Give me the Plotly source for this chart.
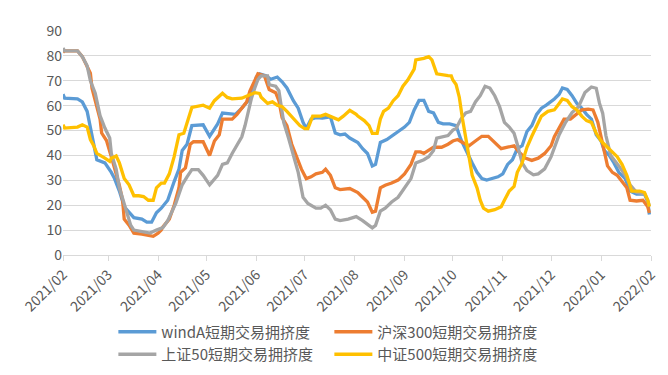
import plotly.graph_objects as go

blue_dates = ["2021-02-01","2021-02-02","2021-02-10","2021-02-13","2021-02-16","2021-02-18","2021-02-20","2021-02-22","2021-02-27","2021-03-02","2021-03-03","2021-03-05","2021-03-08","2021-03-11","2021-03-14","2021-03-17","2021-03-22","2021-03-25","2021-03-28","2021-03-31","2021-04-03","2021-04-07","2021-04-11","2021-04-14","2021-04-16","2021-04-19","2021-04-22","2021-04-29","2021-05-03","2021-05-08","2021-05-11","2021-05-16","2021-05-19","2021-05-23","2021-05-27","2021-05-30","2021-06-01","2021-06-03","2021-06-07","2021-06-10","2021-06-14","2021-06-17","2021-06-20","2021-06-24","2021-06-27","2021-06-30","2021-07-02","2021-07-05","2021-07-08","2021-07-12","2021-07-17","2021-07-20","2021-07-23","2021-07-26","2021-07-29","2021-08-03","2021-08-06","2021-08-09","2021-08-12","2021-08-14","2021-08-17","2021-08-21","2021-08-25","2021-08-28","2021-09-01","2021-09-04","2021-09-07","2021-09-10","2021-09-13","2021-09-16","2021-09-19","2021-09-22","2021-09-25","2021-09-29","2021-10-03","2021-10-06","2021-10-10","2021-10-13","2021-10-16","2021-10-19","2021-10-22","2021-10-25","2021-10-29","2021-11-01","2021-11-04","2021-11-07","2021-11-10","2021-11-13","2021-11-16","2021-11-19","2021-11-22","2021-11-25","2021-11-28","2021-12-03","2021-12-06","2021-12-08","2021-12-11","2021-12-14","2021-12-17","2021-12-20","2021-12-23","2021-12-26","2021-12-29","2022-01-01","2022-01-03","2022-01-06","2022-01-09","2022-01-12","2022-01-16","2022-01-19","2022-01-23","2022-01-28","2022-01-30","2022-01-31"]
blue_vals = [64.6,63,62.7,61.5,57.7,51.4,44.5,38.3,37,34.5,33.2,30.7,25.7,19.4,17,15,14.4,13.2,13.2,17,18.8,22,29.5,34.5,42,44.5,52,52.3,47.7,52.7,57,56.7,56.5,59,62,66.5,71.5,72.8,72,70.6,71.5,69.6,67.1,62,59,53.3,50.8,54.6,55.2,55,55.5,49,48.3,48.6,47,45.2,42.7,40.8,35.8,36.4,45.2,46.4,48.3,49.6,51.4,53.3,58.3,62.1,62.1,57.7,57.1,53.3,52.7,52.7,52,46.4,40.8,37,33.2,30.7,30.1,30.7,31.4,32.6,36.4,38.3,42.7,43.9,49.6,52,56.5,59,60.2,62.7,64.6,67.1,66.5,64,60.9,59,56.5,54.6,48.3,45.8,42,40.1,37,33.2,30.7,25.7,24.5,24.5,21.3,16.3]

orange_dates = ["2021-02-01","2021-02-02","2021-02-10","2021-02-13","2021-02-18","2021-02-19","2021-02-21","2021-02-24","2021-02-25","2021-02-28","2021-03-03","2021-03-06","2021-03-08","2021-03-10","2021-03-11","2021-03-14","2021-03-17","2021-03-22","2021-03-25","2021-03-29","2021-04-01","2021-04-03","2021-04-04","2021-04-08","2021-04-11","2021-04-14","2021-04-15","2021-04-18","2021-04-21","2021-04-23","2021-04-29","2021-05-03","2021-05-06","2021-05-09","2021-05-11","2021-05-17","2021-05-20","2021-05-23","2021-05-26","2021-05-28","2021-05-31","2021-06-02","2021-06-06","2021-06-09","2021-06-13","2021-06-15","2021-06-17","2021-06-20","2021-06-23","2021-06-26","2021-06-29","2021-07-02","2021-07-05","2021-07-08","2021-07-12","2021-07-14","2021-07-17","2021-07-20","2021-07-23","2021-07-29","2021-08-03","2021-08-06","2021-08-09","2021-08-12","2021-08-14","2021-08-17","2021-08-20","2021-08-24","2021-08-28","2021-09-01","2021-09-05","2021-09-08","2021-09-11","2021-09-13","2021-09-16","2021-09-19","2021-09-24","2021-09-28","2021-10-01","2021-10-04","2021-10-07","2021-10-11","2021-10-15","2021-10-19","2021-10-23","2021-10-27","2021-10-31","2021-11-04","2021-11-08","2021-11-11","2021-11-15","2021-11-19","2021-11-23","2021-11-27","2021-12-01","2021-12-03","2021-12-06","2021-12-09","2021-12-13","2021-12-17","2021-12-20","2021-12-24","2021-12-27","2021-12-30","2022-01-02","2022-01-05","2022-01-08","2022-01-11","2022-01-14","2022-01-17","2022-01-19","2022-01-23","2022-01-27","2022-01-30","2022-01-31"]
orange_vals = [81.5,82,82,79.7,73,67,62,54.6,49,46,39.5,33,28,22,14.4,12,8.8,8.4,7.9,7.5,8.8,10,11.3,14.4,20,27,33.2,35,44.5,45.5,45.5,40,45.8,48.3,54.6,54.6,56.5,59,61.5,65.9,70.3,72.8,72,66.5,65.2,62,55.2,52,44.5,39.5,34.5,30.7,31.4,32.6,33.2,34.5,32,27,26.3,26.7,25.1,23.2,21.3,17.2,17.6,27,28,28.9,30.1,32.6,36.4,41.4,41.4,40.8,42,43.3,43.3,44.5,45.8,46.4,45.2,43.9,45.8,47.7,47.7,45.2,42.7,43.3,43.9,41.4,38.9,38,38.9,40.8,43.9,47.5,51.4,54.6,54.6,56.5,58.3,58.6,58.3,53.3,44.5,35.8,33.2,32,29.5,27,22,21.7,22,19.4,16.9]

gray_dates = ["2021-02-01","2021-02-02","2021-02-10","2021-02-13","2021-02-16","2021-02-18","2021-02-21","2021-02-24","2021-02-27","2021-03-02","2021-03-03","2021-03-06","2021-03-08","2021-03-11","2021-03-13","2021-03-15","2021-03-17","2021-03-23","2021-03-27","2021-03-31","2021-04-03","2021-04-04","2021-04-07","2021-04-10","2021-04-12","2021-04-14","2021-04-16","2021-04-19","2021-04-22","2021-04-26","2021-04-29","2021-05-03","2021-05-08","2021-05-11","2021-05-14","2021-05-17","2021-05-20","2021-05-23","2021-05-25","2021-05-27","2021-05-29","2021-05-31","2021-06-02","2021-06-04","2021-06-08","2021-06-09","2021-06-13","2021-06-15","2021-06-16","2021-06-18","2021-06-21","2021-06-24","2021-06-27","2021-06-30","2021-07-03","2021-07-08","2021-07-11","2021-07-14","2021-07-17","2021-07-20","2021-07-23","2021-07-28","2021-08-02","2021-08-06","2021-08-09","2021-08-12","2021-08-14","2021-08-17","2021-08-20","2021-08-24","2021-08-28","2021-09-01","2021-09-05","2021-09-08","2021-09-13","2021-09-16","2021-09-19","2021-09-21","2021-09-25","2021-09-28","2021-10-01","2021-10-03","2021-10-06","2021-10-09","2021-10-12","2021-10-15","2021-10-18","2021-10-21","2021-10-24","2021-10-27","2021-10-30","2021-11-02","2021-11-05","2021-11-08","2021-11-10","2021-11-13","2021-11-16","2021-11-20","2021-11-23","2021-11-27","2021-12-01","2021-12-06","2021-12-10","2021-12-14","2021-12-18","2021-12-22","2021-12-26","2021-12-29","2021-12-31","2022-01-02","2022-01-04","2022-01-07","2022-01-12","2022-01-16","2022-01-19","2022-01-23","2022-01-28","2022-01-30","2022-01-31"]
gray_vals = [83.2,82,82,79.7,76,70,65,56,51,47,40.8,34.5,27,20.7,17,12,10,9.4,8.8,10,10.5,11,13.8,18.2,20.7,24.5,28.2,31.4,34.3,34.3,32,28.2,32,36.4,37,40.8,44.5,47.5,52,58,63,67,70.5,72,72,68.4,67.8,66,62,53.3,47,39.5,33.2,23.2,20.7,18.8,18.8,20,18.2,14.4,13.8,14.4,15.4,13.8,12.5,10.9,11.9,17.6,18.8,21.3,23.2,27,30.7,37,38.3,39.5,42,47,47.7,48,50.2,50.8,54.6,57.1,57.7,61.5,64,67.8,67.1,64,59.6,53.3,51.4,48.9,44.5,37,33.9,32.2,32.6,34.6,39.5,48.3,53.3,57.2,59.6,65.3,67.5,67,61,57,48,40,35.8,32,28.2,25.2,24.5,22,19.5]

yellow_dates = ["2021-02-01","2021-02-02","2021-02-10","2021-02-13","2021-02-16","2021-02-18","2021-02-20","2021-02-22","2021-02-27","2021-03-02","2021-03-03","2021-03-06","2021-03-08","2021-03-11","2021-03-14","2021-03-17","2021-03-20","2021-03-23","2021-03-26","2021-03-29","2021-03-31","2021-04-03","2021-04-05","2021-04-08","2021-04-11","2021-04-14","2021-04-17","2021-04-20","2021-04-22","2021-04-29","2021-05-03","2021-05-06","2021-05-11","2021-05-14","2021-05-17","2021-05-23","2021-05-27","2021-05-31","2021-06-03","2021-06-04","2021-06-08","2021-06-11","2021-06-14","2021-06-17","2021-06-20","2021-06-24","2021-06-28","2021-07-01","2021-07-03","2021-07-06","2021-07-11","2021-07-14","2021-07-19","2021-07-22","2021-07-25","2021-07-29","2021-08-02","2021-08-03","2021-08-07","2021-08-10","2021-08-12","2021-08-15","2021-08-17","2021-08-19","2021-08-22","2021-08-25","2021-08-28","2021-08-31","2021-09-03","2021-09-07","2021-09-08","2021-09-13","2021-09-16","2021-09-18","2021-09-21","2021-09-24","2021-09-28","2021-09-30","2021-10-01","2021-10-03","2021-10-05","2021-10-07","2021-10-09","2021-10-11","2021-10-13","2021-10-16","2021-10-18","2021-10-20","2021-10-23","2021-10-27","2021-10-31","2021-11-02","2021-11-05","2021-11-08","2021-11-10","2021-11-13","2021-11-16","2021-11-19","2021-11-22","2021-11-25","2021-11-29","2021-12-03","2021-12-06","2021-12-08","2021-12-11","2021-12-14","2021-12-17","2021-12-20","2021-12-23","2021-12-26","2021-12-29","2022-01-01","2022-01-04","2022-01-07","2022-01-11","2022-01-14","2022-01-17","2022-01-20","2022-01-25","2022-01-28","2022-01-30","2022-01-31"]
yellow_vals = [52.3,51,51.4,52.3,51.4,46.4,44,40.8,38.9,37.6,38.9,39.8,37,30.7,28.2,23.8,23.8,23.5,22,22,27,28.9,28.9,32.6,39.5,48.3,48.9,54.6,59.3,60.2,59,62,65,63.3,62.7,63,64,65.2,64.9,63.4,60.9,61.5,60.2,59.6,57.7,54.6,52,50.8,50.8,55.8,55.8,56.5,55.2,54.3,55.8,58.1,56.5,55.8,54,52,48.9,48.9,54.6,57.7,59,62,64,67.8,70.3,74.7,78.4,79,79.7,78.4,72.8,72.4,72.1,72,70.3,68.5,63.4,54.6,47,39.5,32,27,22,18.8,17.6,18.2,19.4,22,25.7,27.6,33.2,37,43.3,47.7,52,55.8,57.7,58.3,60.9,62.7,62.1,59.6,58.3,55.8,54,53.3,48.9,45.8,43.9,42,39.5,36.4,32,25.7,25.7,25.1,22,19.4]

series_names = ["windA短期交易拥挤度", "沪深300短期交易拥挤度", "上证50短期交易拥挤度", "中证500短期交易拥挤度"]
series_colors = ["#5B9BD5", "#ED7D31", "#A5A5A5", "#FFC000"]
x_range = ["2021-02-01", "2022-02-01"]
y_ticks = [0, 10, 20, 30, 40, 50, 60, 70, 80, 90]

FONT = "Noto Sans CJK SC"
TXT = "#595959"

fig = go.Figure()
for name, color, xs, ys in zip(series_names, series_colors,
                               [blue_dates, orange_dates, gray_dates, yellow_dates],
                               [blue_vals, orange_vals, gray_vals, yellow_vals]):
    fig.add_trace(go.Scatter(x=xs, y=ys, mode="lines", name=name,
                             line=dict(color=color, width=3.3)))

fig.update_layout(
    width=668, height=375,
    margin=dict(l=44, r=25, t=16, b=120),
    paper_bgcolor="white", plot_bgcolor="white",
    font=dict(family=FONT, color=TXT, size=14),
    showlegend=True,
    legend=dict(orientation="h", x=0.453, xanchor="center", y=-0.27, yanchor="top",
                entrywidth=163, entrywidthmode="pixels",
                font=dict(family=FONT, size=15, color=TXT),
                traceorder="normal", itemwidth=38, tracegroupgap=0),
)
fig.update_xaxes(type="date", range=x_range, dtick="M1", tick0="2021-02-01",
                 tickformat="%Y/%m", tickangle=-45, showgrid=False,
                 showline=True, linecolor="#D9D9D9", linewidth=1,
                 ticks="outside", ticklen=5, tickcolor="#D9D9D9",
                 tickfont=dict(family=FONT, size=14, color=TXT), zeroline=False)
fig.update_yaxes(range=[0, 90], tickvals=y_ticks, showgrid=True, gridcolor="#D9D9D9",
                 gridwidth=1, zeroline=False, showline=False, ticks="",
                 tickfont=dict(family=FONT, size=14, color=TXT))

fig.write_html("out.html")
